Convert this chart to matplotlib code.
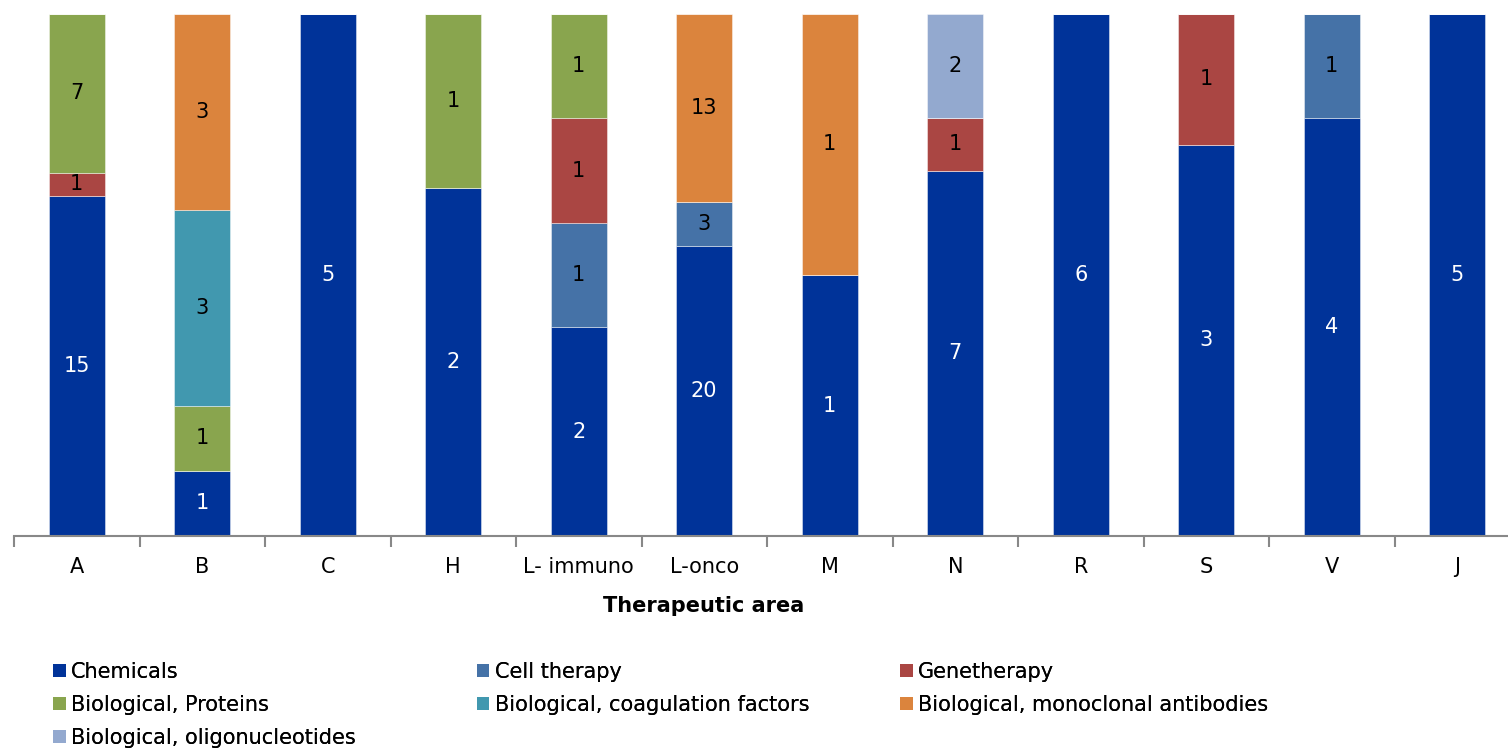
import matplotlib
matplotlib.use("Agg")
import matplotlib.pyplot as plt
import numpy as np

# Data
areas = ["A", "B", "C", "H", "L- immuno", "L-onco", "M", "N", "R", "S", "V", "J"]
series_names = [
    "Chemicals",
    "Cell therapy",
    "Genetherapy",
    "Biological, Proteins",
    "Biological, coagulation factors",
    "Biological, monoclonal antibodies",
    "Biological, oligonucleotides",
]
chemicals = [15, 1, 5, 2, 2, 20, 1, 7, 6, 3, 4, 5]
cell_therapy = [0, 0, 0, 0, 1, 3, 0, 0, 0, 0, 1, 0]
genetherapy = [1, 0, 0, 0, 1, 0, 0, 1, 0, 1, 0, 0]
bio_proteins = [7, 1, 0, 1, 1, 0, 0, 0, 0, 0, 0, 0]
bio_coagulation = [0, 3, 0, 0, 0, 0, 0, 0, 0, 0, 0, 0]
bio_monoclonal = [0, 3, 0, 0, 0, 13, 1, 0, 0, 0, 0, 0]
bio_oligo = [0, 0, 0, 0, 0, 0, 0, 2, 0, 0, 0, 0]

colors = ["#003399", "#4572A7", "#AA4643", "#89A54E", "#4198AF", "#DB843D", "#93A9CF"]
label_colors = ["white", "black", "black", "black", "black", "black", "black"]

series = [chemicals, cell_therapy, genetherapy, bio_proteins,
          bio_coagulation, bio_monoclonal, bio_oligo]
counts = np.array(series, dtype=float)
totals = counts.sum(axis=0)
shares = counts / totals

FS = 15
W, H = 1508, 748
fig = plt.figure(figsize=(W / 100, H / 100), dpi=100)
ax = fig.add_axes([14 / W, 1 - 536 / H, 1494 / W, (536 - 14) / H])

x = np.arange(len(areas))
bottom = np.zeros(len(areas))
handles = []
for name, share, cnt, col, lcol in zip(series_names, shares, counts, colors, label_colors):
    bars = ax.bar(x, share, width=0.45, bottom=bottom, color=col,
                  edgecolor=(1, 1, 1, 0.5), linewidth=0.6, label=name)
    ax.bar_label(bars, labels=[f"{int(c)}" if c > 0 else "" for c in cnt],
                 label_type="center", color=lcol, fontsize=FS)
    bottom += share
    handles.append(bars)

# Axes styling
ax.set_xlim(-0.5, -0.5 + 1494 / 125.5)
ax.set_ylim(0, 1)
for side in ["top", "right", "left"]:
    ax.spines[side].set_visible(False)
ax.spines["bottom"].set_color("#888888")
ax.spines["bottom"].set_linewidth(1.5)
ax.set_yticks([])
ax.set_xticks(x)
ax.set_xticklabels(areas, fontsize=FS)
ax.tick_params(axis="x", which="major", length=0, pad=15)
ax.set_xticks(np.arange(-0.5, len(areas) - 0.5, 1), minor=True)
ax.tick_params(axis="x", which="minor", length=8, width=1.5, color="#888888")

fig.text(704 / W, 1 - 606 / H, "Therapeutic area", ha="center", va="center",
         fontsize=FS, fontweight="bold")

# Legend: three fixed columns, filled row by row
col_x = [53, 477, 900]
for c in range(3):
    idx = list(range(c, len(series_names), 3))
    leg = fig.legend([handles[i] for i in idx], [series_names[i] for i in idx],
                     loc="upper left",
                     bbox_to_anchor=(col_x[c] / W, 1 - 662 / H),
                     frameon=False, fontsize=FS, handlelength=0.6,
                     handleheight=0.6, handletextpad=0.25, labelspacing=0.62,
                     borderaxespad=0, borderpad=0)
    for h in leg.legend_handles:
        h.set_edgecolor("none")
    fig.add_artist(leg)

fig.savefig("out.png", dpi=100)
